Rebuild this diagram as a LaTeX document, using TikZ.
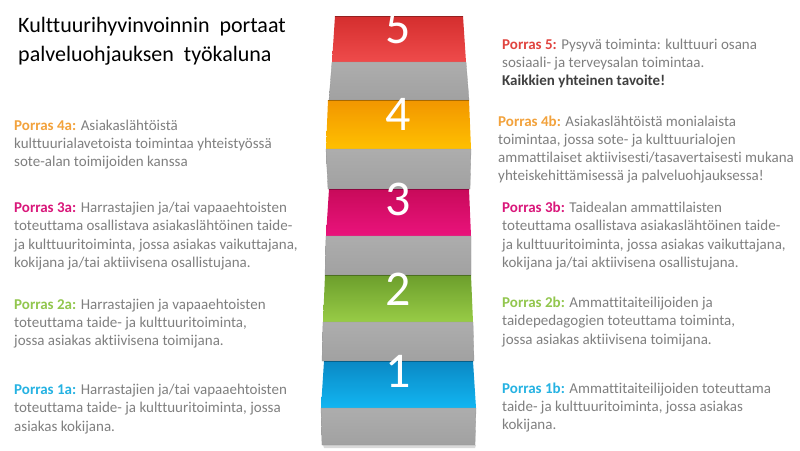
\documentclass[tikz,border=0pt]{standalone}
\usepackage{fontspec}
\setmainfont{Carlito}[Ligatures={NoCommon}]
\usetikzlibrary{positioning}

% step colours
\definecolor{redtop}{HTML}{D42E2E}
\definecolor{redbot}{HTML}{EF4B4B}
\definecolor{orangetop}{HTML}{F29600}
\definecolor{orangebot}{HTML}{FFC000}
\definecolor{pinktop}{HTML}{C80A5A}
\definecolor{pinkbot}{HTML}{EA137C}
\definecolor{greentop}{HTML}{6C9E2C}
\definecolor{greenbot}{HTML}{98CC46}
\definecolor{bluetop}{HTML}{0A88C4}
\definecolor{bluebot}{HTML}{12B6F2}
\definecolor{risergray}{HTML}{A6A6A6}
% text colours
\definecolor{infogray}{HTML}{7F7F7F}
\definecolor{labred}{HTML}{E0443F}
\definecolor{laborange}{HTML}{F2A23C}
\definecolor{labpink}{HTML}{D9177A}
\definecolor{labgreen}{HTML}{92C64E}
\definecolor{labblue}{HTML}{25B2E2}

\tikzset{
    riser/.style={top color=risergray!92!white, bottom color=risergray!97!black, draw=gray!80, line width=0.3pt},
    stepnum/.style={text=white, anchor=base, inner sep=0pt, font=\fontsize{50}{50}\selectfont},
    info/.style={anchor=base west, align=left, inner sep=0pt, text=infogray, font=\fontsize{15}{18.3}\selectfont},
    title/.style={anchor=base west, align=left, inner sep=0pt, text=black, font=\fontsize{22}{29}\selectfont}
}

\begin{document}
\begin{tikzpicture}[x=1pt, y=-1pt]

\useasboundingbox (0,0) rectangle (800,450);

% soft shadow under the bottom step
\fill[black!15] (323,445) -- (476,445) -- (475,448) -- (324,448) -- cycle;

% Staircase, top step first
\shade[top color=redtop, bottom color=redbot] (335,16) -- (463,16) -- (466,62) -- (332,62) -- cycle;
\draw[redtop!70!black] (335,16) -- (463,16);
\shade[riser] (332,62) -- (466,62) -- (469,100) -- (329,100) -- cycle;

\shade[top color=orangetop, bottom color=orangebot] (328,100) -- (469,100) -- (471,149) -- (326,149) -- cycle;
\draw[orangetop!70!black] (328,100) -- (469,100);
\shade[riser] (326,149) -- (471,149) -- (470,189) -- (328,189) -- cycle;

\shade[top color=pinktop, bottom color=pinkbot] (329,189) -- (469,189) -- (471,236) -- (326,236) -- cycle;
\draw[pinktop!70!black] (329,189) -- (469,189);
\shade[riser] (326,236) -- (471,236) -- (471,275) -- (325,275) -- cycle;

\shade[top color=greentop, bottom color=greenbot] (325,275) -- (471,275) -- (473,322) -- (323,322) -- cycle;
\draw[greentop!70!black] (325,275) -- (471,275);
\shade[riser] (323,322) -- (473,322) -- (474,361) -- (322,361) -- cycle;

\shade[top color=bluetop, bottom color=bluebot] (324,361) -- (473,361) -- (476,408) -- (321,408) -- cycle;
\draw[bluetop!70!black] (324,361) -- (473,361);
\shade[riser] (321,408) -- (476,408) -- (475,445) -- (322,445) -- cycle;

% Step numbers
\node[stepnum] (num5) at (398,43) {5};
\node[stepnum] (num4) at (398,130) {4};
\node[stepnum] (num3) at (398,215) {3};
\node[stepnum] (num2) at (398,305) {2};
\node[stepnum] (num1) at (398,387) {1};

% Title (placed by its last line)
\node[title] (title) at (18,61) {Kulttuurihyvinvoinnin\ \ portaat\\palveluohjauksen\ \ työkaluna};

% Left column (placed by last line)
\node[info] (porras4a) at (14,166.6) {\textbf{\color{laborange}Porras 4a:} Asiakaslähtöistä\\kulttuurialavetoista toimintaa yhteistyössä\\sote-alan toimijoiden kanssa};
\node[info] (porras3a) at (14,267.4) {\textbf{\color{labpink}Porras 3a:} Harrastajien ja/tai vapaaehtoisten\\toteuttama osallistava asiakaslähtöinen taide-\\ja kulttuuritoiminta, jossa asiakas vaikuttajana,\\kokijana ja/tai aktiivisena osallistujana.};
\node[info] (porras2a) at (14,345.6) {\textbf{\color{labgreen}Porras 2a:} Harrastajien ja vapaaehtoisten\\toteuttama taide- ja kulttuuritoiminta,\\jossa asiakas aktiivisena toimijana.};
\node[info] (porras1a) at (14,431.1) {\textbf{\color{labblue}Porras 1a:} Harrastajien ja/tai vapaaehtoisten\\toteuttama taide- ja kulttuuritoiminta, jossa\\asiakas kokijana.};

% Right column
\node[info] (porras5) at (502,85.9) {\textbf{\color{labred}Porras 5:} Pysyvä toiminta: kulttuuri osana\\sosiaali- ja terveysalan toimintaa.\\\textbf{\color{black!75}Kaikkien yhteinen tavoite!}};
\node[info] (porras4b) at (498,180.9) {\textbf{\color{laborange}Porras 4b:} Asiakaslähtöistä monialaista\\toimintaa, jossa sote- ja kulttuurialojen\\ammattilaiset aktiivisesti/tasavertaisesti mukana\\yhteiskehittämisessä ja palveluohjauksessa!};
\node[info] (porras3b) at (502,267.4) {\textbf{\color{labpink}Porras 3b:} Taidealan ammattilaisten\\toteuttama osallistava asiakaslähtöinen taide-\\ja kulttuuritoiminta, jossa asiakas vaikuttajana,\\kokijana ja/tai aktiivisena osallistujana.};
\node[info] (porras2b) at (502,344.1) {\textbf{\color{labgreen}Porras 2b:} Ammattitaiteilijoiden ja\\taidepedagogien toteuttama toiminta,\\jossa asiakas aktiivisena toimijana.};
\node[info] (porras1b) at (502,429.6) {\textbf{\color{labblue}Porras 1b:} Ammattitaiteilijoiden toteuttama\\taide- ja kulttuuritoiminta, jossa asiakas\\kokijana.};

\end{tikzpicture}
\end{document}
